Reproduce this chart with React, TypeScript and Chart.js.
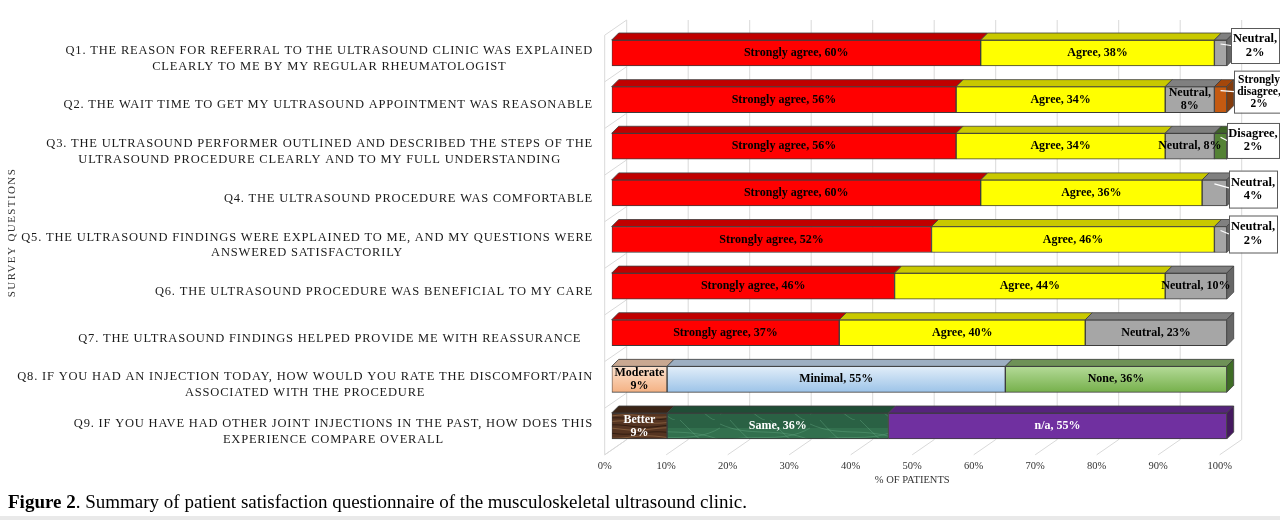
import React, { useEffect, useRef } from "react";
import { Chart, registerables } from "chart.js";

Chart.register(...registerables);

// ---------------- DATA ----------------
const questions: string[][] = [
  ["Q1. THE REASON FOR REFERRAL TO THE ULTRASOUND CLINIC WAS EXPLAINED", "CLEARLY TO ME BY MY REGULAR RHEUMATOLOGIST"],
  ["Q2. THE WAIT TIME TO GET MY ULTRASOUND APPOINTMENT WAS REASONABLE"],
  ["Q3. THE ULTRASOUND PERFORMER OUTLINED AND DESCRIBED THE STEPS OF THE", "ULTRASOUND PROCEDURE CLEARLY AND TO MY FULL UNDERSTANDING"],
  ["Q4. THE ULTRASOUND PROCEDURE WAS COMFORTABLE"],
  ["Q5. THE ULTRASOUND FINDINGS WERE EXPLAINED TO ME, AND MY QUESTIONS WERE", "ANSWERED SATISFACTORILY"],
  ["Q6. THE ULTRASOUND PROCEDURE WAS BENEFICIAL TO MY CARE"],
  ["Q7. THE ULTRASOUND FINDINGS HELPED PROVIDE ME WITH REASSURANCE   "],
  ["Q8. IF YOU HAD AN INJECTION TODAY, HOW WOULD YOU RATE THE DISCOMFORT/PAIN", "ASSOCIATED WITH THE PROCEDURE"],
  ["Q9. IF YOU HAVE HAD OTHER JOINT INJECTIONS IN THE PAST, HOW DOES THIS", "EXPERIENCE COMPARE OVERALL"],
];

const stronglyAgree = [60, 56, 56, 60, 52, 46, 37, 0, 0];
const agree = [38, 34, 34, 36, 46, 44, 40, 0, 0];
const neutral = [2, 8, 8, 4, 2, 10, 23, 0, 0];
const disagree = [0, 0, 2, 0, 0, 0, 0, 0, 0];
const stronglyDisagree = [0, 2, 0, 0, 0, 0, 0, 0, 0];
const moderate = [0, 0, 0, 0, 0, 0, 0, 9, 0];
const minimal = [0, 0, 0, 0, 0, 0, 0, 55, 0];
const noneSeries = [0, 0, 0, 0, 0, 0, 0, 36, 0];
const better = [0, 0, 0, 0, 0, 0, 0, 0, 9];
const same = [0, 0, 0, 0, 0, 0, 0, 0, 36];
const notApplicable = [0, 0, 0, 0, 0, 0, 0, 0, 55];

const xTickValues = [0, 10, 20, 30, 40, 50, 60, 70, 80, 90, 100];
const xTitle = "% OF PATIENTS";
const yTitle = "SURVEY QUESTIONS";

// cells whose label is split onto two lines inside the bar: [row, series]
const twoLineCells: [number, string][] = [
  [1, "Neutral"],
  [7, "Moderate"],
  [8, "Better"],
];
// cells whose label sits in a callout box to the right
const calloutCells: [number, string][] = [
  [0, "Neutral"],
  [1, "Strongly disagree"],
  [2, "Disagree"],
  [3, "Neutral"],
  [4, "Neutral"],
];
// callout box placement relative to segment right end / bar top
const calloutBoxes = [
  { dx: 4.3, dy: -12, w: 48, h: 35, fs: 12.5, lh: 14 },
  { dx: 7.3, dy: -16, w: 50, h: 42, fs: 11.5, lh: 12 },
  { dx: 0.3, dy: -10.3, w: 52, h: 35, fs: 12.5, lh: 13.5 },
  { dx: 2.3, dy: -9.3, w: 48, h: 37, fs: 12.5, lh: 13.5 },
  { dx: 2.3, dy: -11, w: 48, h: 37, fs: 12.5, lh: 13.5 },
];

const FONT = "'Liberation Serif', 'Times New Roman', serif";

// 3D geometry (pixels)
const DX = 7;
const DY = -7;
const FRONT_DX = -7;
const FRONT_DY = 5.5;
const BACK_DX = 15;
const BACK_DY = -9.7;

function makeWood(): CanvasPattern | string {
  const c = document.createElement("canvas");
  c.width = 64;
  c.height = 28;
  const g = c.getContext("2d");
  if (!g) return "#4a2c1b";
  g.fillStyle = "#553421";
  g.fillRect(0, 0, 64, 28);
  const rows = [2, 6, 9, 13, 17, 20, 24, 27];
  rows.forEach((r, k) => {
    g.strokeStyle = k % 2 === 0 ? "rgba(140,100,65,0.8)" : "rgba(40,22,12,0.8)";
    g.lineWidth = 1;
    g.beginPath();
    for (let x = 0; x <= 64; x += 2) {
      const y = r + Math.sin((x / 64) * Math.PI * 2 + k) * 1.2;
      if (x === 0) g.moveTo(x, y);
      else g.lineTo(x, y);
    }
    g.stroke();
  });
  return g.createPattern(c, "repeat") || "#4a2c1b";
}

function makeMarble(): CanvasPattern | string {
  const c = document.createElement("canvas");
  c.width = 90;
  c.height = 30;
  const g = c.getContext("2d");
  if (!g) return "#2d6a4a";
  g.fillStyle = "#2a6144";
  g.fillRect(0, 0, 90, 30);
  g.fillStyle = "rgba(60,130,90,0.45)";
  g.fillRect(0, 8, 90, 10);
  const veins = [
    [0, 4, 30, 18, 55, 6, 90, 20],
    [0, 24, 25, 10, 60, 26, 90, 8],
    [10, 0, 22, 14, 40, 30, 45, 30],
    [50, 0, 62, 12, 80, 30, 85, 30],
  ];
  g.strokeStyle = "rgba(110,180,140,0.45)";
  g.lineWidth = 0.8;
  veins.forEach((v) => {
    g.beginPath();
    g.moveTo(v[0], v[1]);
    g.bezierCurveTo(v[2], v[3], v[4], v[5], v[6], v[7]);
    g.stroke();
  });
  return g.createPattern(c, "repeat") || "#2d6a4a";
}

export default function App() {
  const canvasRef = useRef<HTMLCanvasElement | null>(null);

  useEffect(() => {
    const canvas = canvasRef.current;
    if (!canvas) return;

    const wood = makeWood();
    const marble = makeMarble();

    const vGrad = (top: string, bottom: string) => (ctx: any) => {
      const chart = ctx.chart;
      const ys = chart.scales && chart.scales.y;
      if (!ys || !chart.chartArea) return bottom;
      const yc = ys.getPixelForValue(ctx.dataIndex);
      const gr = chart.ctx.createLinearGradient(0, yc - 13, 0, yc + 13);
      gr.addColorStop(0, top);
      gr.addColorStop(1, bottom);
      return gr;
    };

    const series = [
      { name: "Strongly agree", data: stronglyAgree, front: "#ff0000", top: "#c00000", side: "#8c0000", text: "#000", comma: true },
      { name: "Agree", data: agree, front: "#ffff00", top: "#c9c900", side: "#9a9a00", text: "#000", comma: true },
      { name: "Neutral", data: neutral, front: "#a6a6a6", top: "#808080", side: "#666666", text: "#000", comma: true },
      { name: "Disagree", data: disagree, front: "#548235", top: "#3e6327", side: "#2f4c1d", text: "#000", comma: true },
      { name: "Strongly disagree", data: stronglyDisagree, front: "#c55a11", top: "#a4470b", side: "#843c0c", text: "#000", comma: true },
      { name: "Moderate", data: moderate, front: vGrad("#fde3cf", "#f4b183"), top: "#c9a891", side: "#a0785c", text: "#000", comma: false },
      { name: "Minimal", data: minimal, front: vGrad("#e2eef9", "#9cc3e8"), top: "#9dafc2", side: "#6f8aa6", text: "#000", comma: true },
      { name: "None", data: noneSeries, front: vGrad("#b4da98", "#76b04b"), top: "#6e9157", side: "#3f6d26", text: "#000", comma: true },
      { name: "Better", data: better, front: wood, top: "#3a2416", side: "#2b1a10", text: "#fff", comma: false },
      { name: "Same", data: same, front: marble, top: "#204d36", side: "#173a28", text: "#fff", comma: true },
      { name: "n/a", data: notApplicable, front: "#7030a0", top: "#56247c", side: "#45195f", text: "#fff", comma: true },
    ];

    const isCell = (list: [number, string][], row: number, name: string) =>
      list.findIndex((c) => c[0] === row && c[1] === name);

    const threeD = {
      id: "threeD",
      beforeDatasetsDraw(chart: any) {
        const ctx: CanvasRenderingContext2D = chart.ctx;
        const xs = chart.scales.x;
        const area = chart.chartArea;
        const n = questions.length;
        const band = (area.bottom - area.top) / n;
        const x0 = xs.getPixelForValue(0);
        ctx.save();
        ctx.strokeStyle = "#d9d9d9";
        ctx.lineWidth = 1;
        ctx.beginPath();
        xTickValues.forEach((v) => {
          const px = xs.getPixelForValue(v);
          ctx.moveTo(px + BACK_DX, area.top + BACK_DY);
          ctx.lineTo(px + BACK_DX, area.bottom + BACK_DY);
          ctx.moveTo(px + FRONT_DX, area.bottom + FRONT_DY);
          ctx.lineTo(px + BACK_DX, area.bottom + BACK_DY);
        });
        ctx.moveTo(x0 + FRONT_DX, area.top + FRONT_DY);
        ctx.lineTo(x0 + FRONT_DX, area.bottom + FRONT_DY);
        for (let k = 0; k <= n; k++) {
          const yb = area.top + k * band;
          ctx.moveTo(x0 + FRONT_DX, yb + FRONT_DY);
          ctx.lineTo(x0 + BACK_DX, yb + BACK_DY);
        }
        ctx.stroke();
        ctx.restore();
      },
      afterDatasetsDraw(chart: any) {
        const ctx: CanvasRenderingContext2D = chart.ctx;
        const n = questions.length;
        const lastDs: number[] = [];
        for (let r = 0; r < n; r++) {
          let last = -1;
          series.forEach((s, i) => {
            if (s.data[r] > 0) last = i;
          });
          lastDs.push(last);
        }
        const geo = (i: number, r: number) => {
          const el = chart.getDatasetMeta(i).data[r];
          const p = el.getProps(["x", "y", "base", "height"], true);
          const left = Math.min(p.x, p.base);
          const right = Math.max(p.x, p.base);
          return { left, right, top: p.y - p.height / 2, bottom: p.y + p.height / 2, cy: p.y };
        };
        ctx.save();
        ctx.lineWidth = 0.8;
        ctx.strokeStyle = "#3c3c3c";
        series.forEach((s, i) => {
          for (let r = 0; r < n; r++) {
            if (!(s.data[r] > 0)) continue;
            const g = geo(i, r);
            ctx.beginPath();
            ctx.moveTo(g.left, g.top);
            ctx.lineTo(g.right, g.top);
            ctx.lineTo(g.right + DX, g.top + DY);
            ctx.lineTo(g.left + DX, g.top + DY);
            ctx.closePath();
            ctx.fillStyle = s.top;
            ctx.fill();
            ctx.stroke();
            if (lastDs[r] === i) {
              ctx.beginPath();
              ctx.moveTo(g.right, g.top);
              ctx.lineTo(g.right + DX, g.top + DY);
              ctx.lineTo(g.right + DX, g.bottom + DY);
              ctx.lineTo(g.right, g.bottom);
              ctx.closePath();
              ctx.fillStyle = s.side;
              ctx.fill();
              ctx.stroke();
            }
          }
        });
        ctx.restore();

        ctx.save();
        ctx.textAlign = "center";
        ctx.textBaseline = "middle";
        series.forEach((s, i) => {
          for (let r = 0; r < n; r++) {
            const v = s.data[r];
            if (!(v > 0)) continue;
            const g = geo(i, r);
            const cx = (g.left + g.right) / 2;
            const ci = isCell(calloutCells, r, s.name);
            if (ci >= 0) {
              const b = calloutBoxes[ci];
              const bx = g.right + b.dx;
              const by = g.top + b.dy;
              ctx.strokeStyle = "#ffffff";
              ctx.lineWidth = 1.2;
              ctx.beginPath();
              ctx.moveTo(cx, g.top + 4);
              ctx.lineTo(bx, Math.min(by + b.h / 2, g.top + 8));
              ctx.stroke();
              ctx.fillStyle = "#ffffff";
              ctx.fillRect(bx, by, b.w, b.h);
              ctx.strokeStyle = "#595959";
              ctx.lineWidth = 1;
              ctx.strokeRect(bx + 0.5, by + 0.5, b.w, b.h);
              const words = s.name.split(" ");
              const lines = words.map((w, k) => (k === words.length - 1 ? w + "," : w));
              lines.push(v + "%");
              ctx.fillStyle = "#000";
              ctx.font = `bold ${b.fs}px ${FONT}`;
              const bcx = bx + b.w / 2;
              const bcy = by + b.h / 2;
              lines.forEach((ln, k) => {
                ctx.fillText(ln, bcx, bcy + (k - (lines.length - 1) / 2) * b.lh);
              });
              continue;
            }
            ctx.fillStyle = s.text;
            ctx.font = `bold 12px ${FONT}`;
            if (isCell(twoLineCells, r, s.name) >= 0) {
              const l1 = s.name + (s.comma ? "," : "");
              ctx.fillText(l1, cx, g.cy - 6.5);
              ctx.fillText(v + "%", cx, g.cy + 6.5);
            } else {
              ctx.fillText(`${s.name}, ${v}%`, cx, g.cy);
            }
          }
        });
        ctx.restore();
      },
      afterDraw(chart: any) {
        const ctx: any = chart.ctx;
        const ys = chart.scales.y;
        const xs = chart.scales.x;
        const area = chart.chartArea;
        ctx.save();
        ctx.fillStyle = "#1a1a1a";
        ctx.textBaseline = "middle";
        ctx.textAlign = "center";
        ctx.font = `12.5px ${FONT}`;
        ctx.letterSpacing = "0.8px";
        const rightEdge = xs.getPixelForValue(0) - 18.7;
        questions.forEach((lines, r) => {
          const y = ys.getPixelForValue(r) + 5.5;
          const w = Math.max(...lines.map((l) => ctx.measureText(l).width));
          const cx = rightEdge - w / 2;
          lines.forEach((ln, k) => {
            ctx.fillText(ln, cx, y + (k - (lines.length - 1) / 2) * 15.5);
          });
        });
        ctx.letterSpacing = "0px";
        ctx.font = `10.5px ${FONT}`;
        ctx.fillStyle = "#333";
        ctx.fillText(xTitle, (area.left + area.right) / 2 + FRONT_DX, 480);
        ctx.font = `11px ${FONT}`;
        ctx.letterSpacing = "1.4px";
        ctx.translate(12, (area.top + area.bottom) / 2 - 7);
        ctx.rotate(-Math.PI / 2);
        ctx.fillText(yTitle, 0, 0);
        ctx.restore();
      },
    };

    const chart = new Chart(canvas, {
      type: "bar",
      data: {
        labels: questions,
        datasets: series.map((s) => ({
          label: s.name,
          data: s.data.map((v) => (v > 0 ? v : null)),
          backgroundColor: s.front as any,
          borderColor: "#3c3c3c",
          borderWidth: 1,
          borderSkipped: false,
          barThickness: 26,
        })),
      },
      options: {
        indexAxis: "y",
        animation: false,
        responsive: true,
        maintainAspectRatio: false,
        layout: { padding: { top: 29.7, right: 53.3, left: 0, bottom: 0 } },
        plugins: {
          legend: { display: false },
          tooltip: { enabled: false },
        },
        scales: {
          x: {
            stacked: true,
            min: 0,
            max: 100,
            grid: { display: false, drawTicks: false },
            border: { display: false },
            afterBuildTicks: (scale: any) => {
              scale.ticks = xTickValues.map((v) => ({ value: v }));
            },
            ticks: {
              callback: (v: any) => `${v}%`,
              font: { family: FONT, size: 10.5 },
              color: "#333",
              labelOffset: FRONT_DX,
              padding: 11,
              maxRotation: 0,
              autoSkip: false,
            },
            afterFit: (scale: any) => {
              scale.height = 70.7;
            },
          },
          y: {
            stacked: true,
            grid: { display: false },
            border: { display: false },
            ticks: { display: false },
            afterFit: (scale: any) => {
              scale.width = 611.7;
            },
          },
        },
      } as any,
      plugins: [threeD as any],
    });

    return () => {
      chart.destroy();
    };
  }, []);

  return (
    <div
      style={{
        position: "fixed",
        left: 0,
        top: 0,
        width: 1280,
        height: 520,
        background: "#ffffff",
        overflow: "hidden",
      }}
    >
      <div style={{ position: "absolute", left: 0, top: 0, width: 1280, height: 520 }}>
        <canvas ref={canvasRef} />
      </div>
      <div
        style={{
          position: "absolute",
          left: 8,
          top: 491,
          fontFamily: FONT,
          fontSize: 19,
          lineHeight: "22px",
          color: "#000",
          whiteSpace: "nowrap",
        }}
      >
        <b>Figure 2</b>. Summary of patient satisfaction questionnaire of the musculoskeletal ultrasound clinic.
      </div>
      <div style={{ position: "absolute", left: 0, top: 516, width: 1280, height: 4, background: "#e9e9e9" }} />
    </div>
  );
}
